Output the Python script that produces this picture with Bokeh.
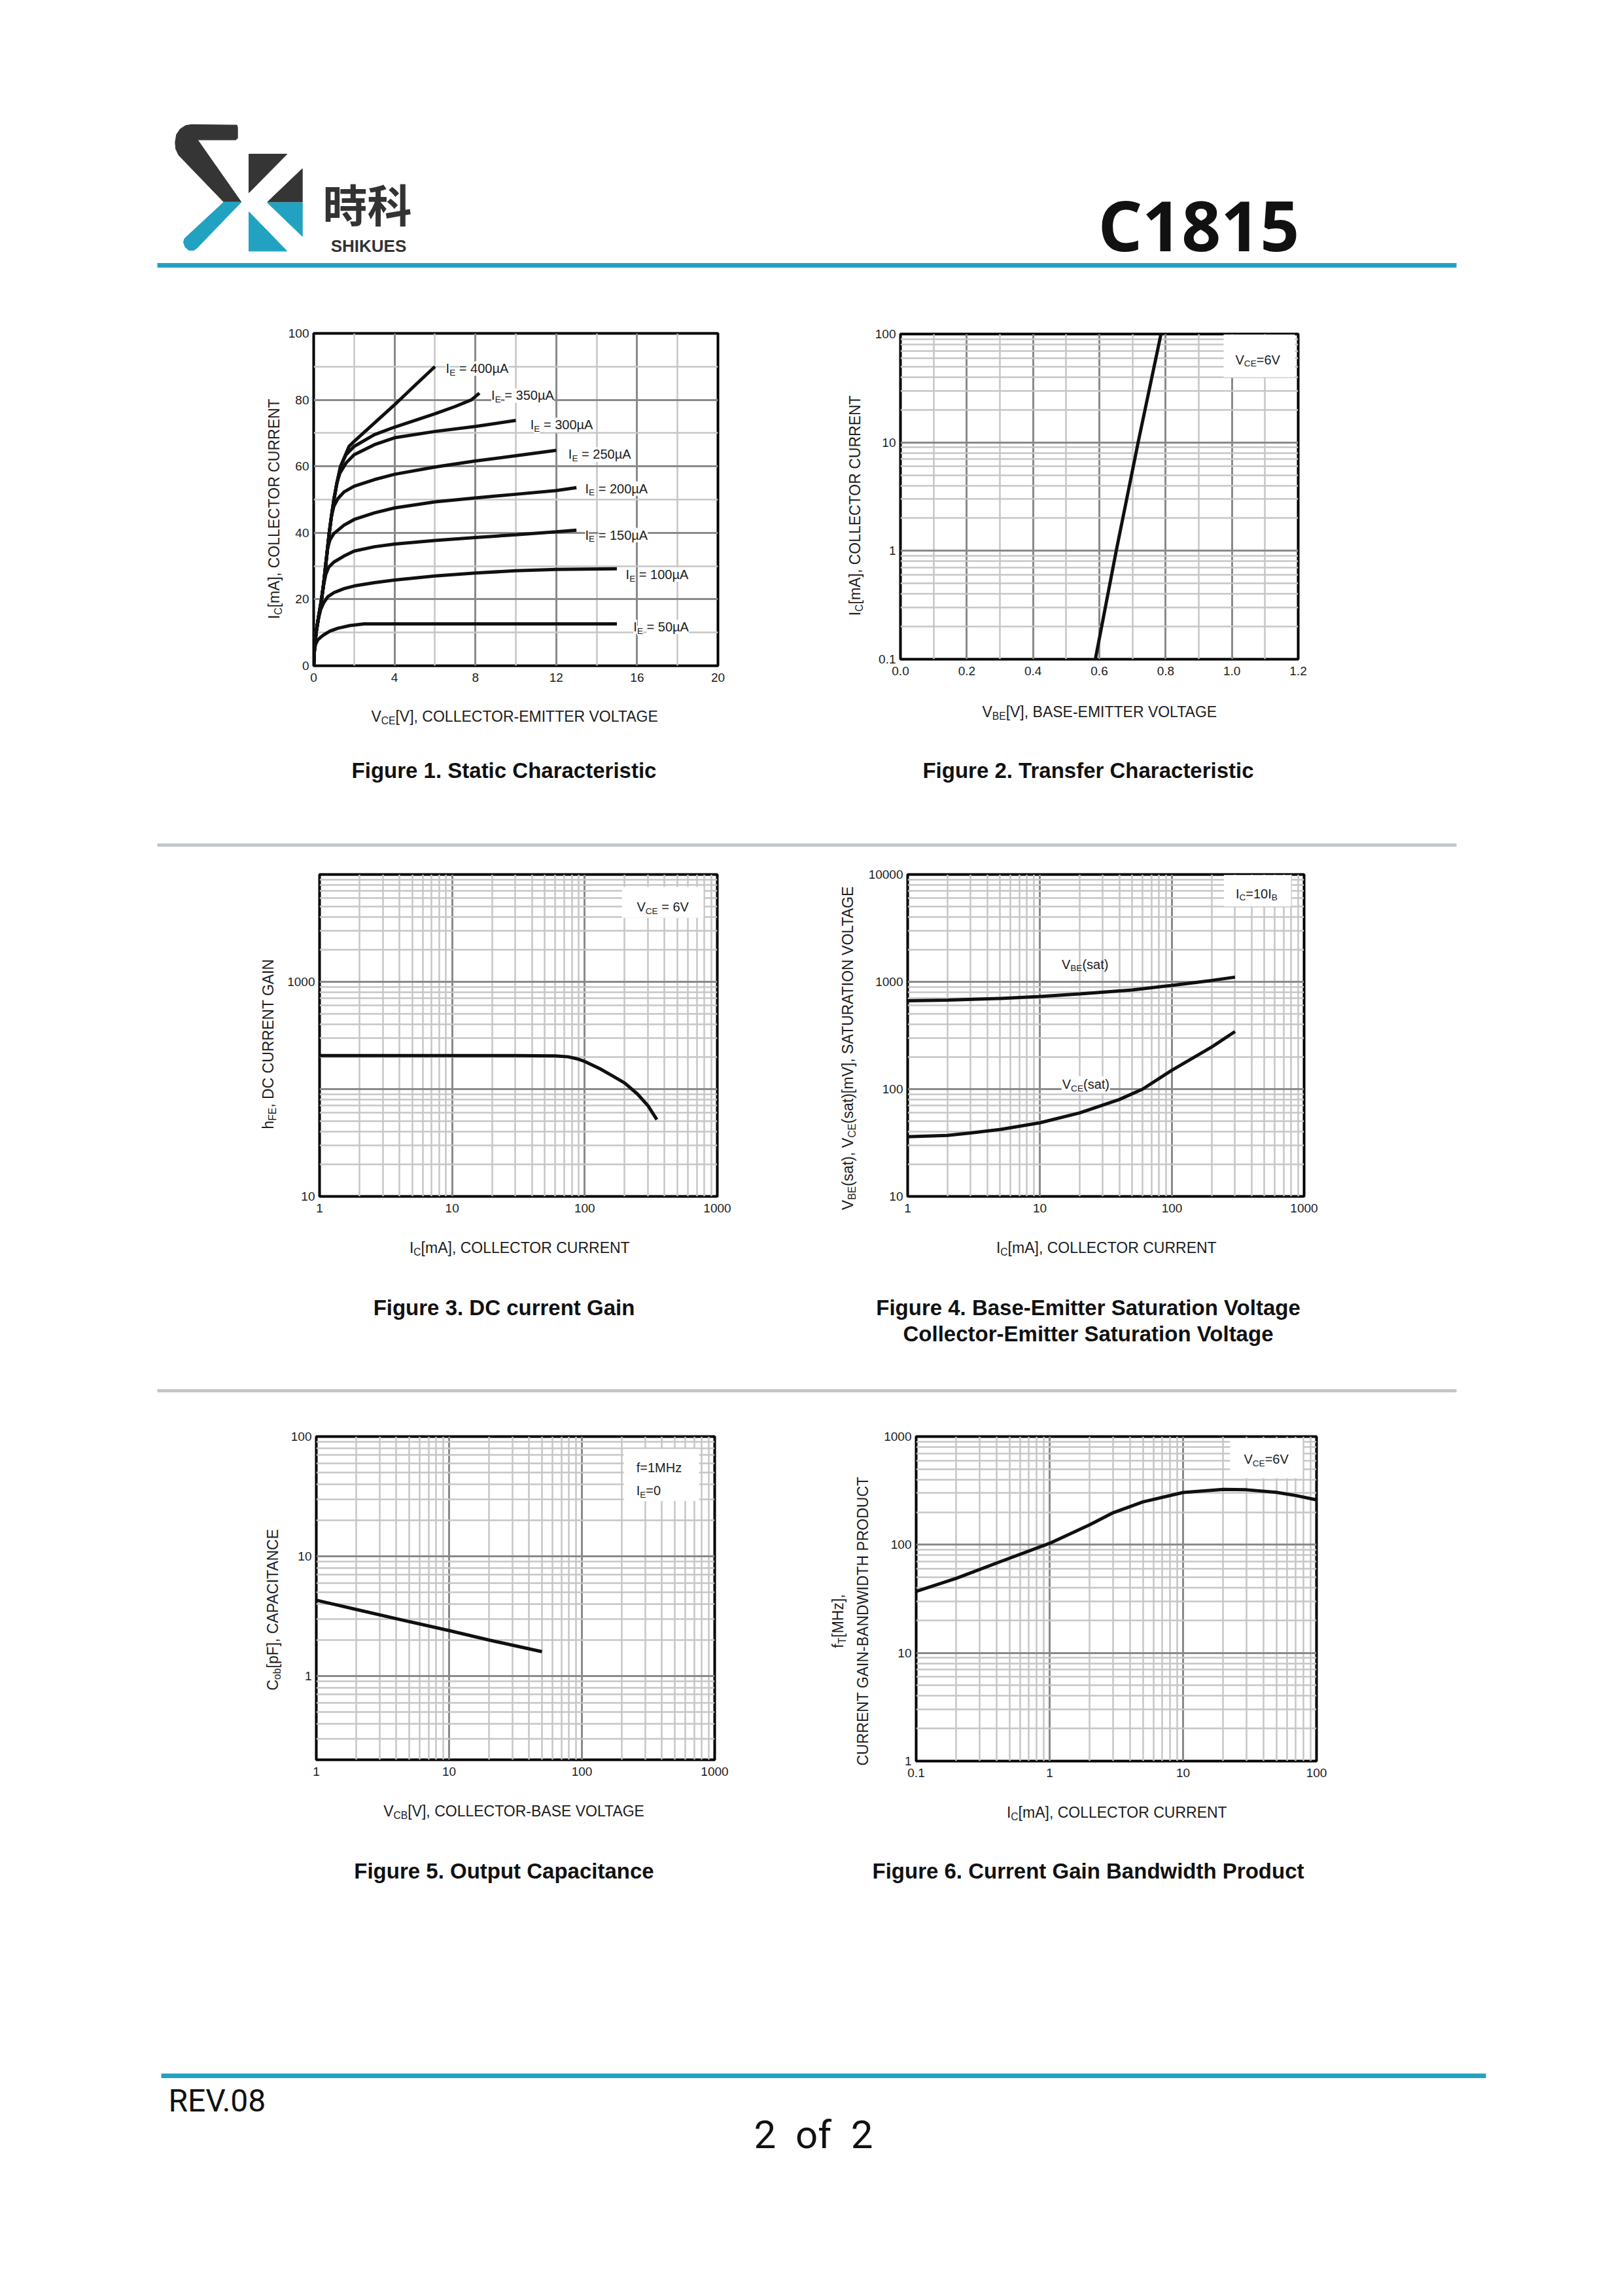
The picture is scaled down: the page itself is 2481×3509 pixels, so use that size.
import math
from bokeh.plotting import figure
from bokeh.layouts import column, row
from bokeh.models import (Range1d, FixedTicker, Label, BoxAnnotation,
                          CustomJSTickFormatter, BasicTickFormatter)
from bokeh.embed import file_html
from bokeh.resources import INLINE

# =============================== DATA ===============================
# Figure 1 - Static characteristic: VCE [V] vs IC [mA]
f1_vce_50 = [0, 0.04, 0.1, 0.2, 0.35, 0.5, 0.8, 1.2, 1.8, 2.5, 15]
f1_ic_50 = [0, 5, 6.5, 7.8, 8.6, 9.3, 10.4, 11.3, 12.1, 12.6, 12.6]
f1_vce_100 = [0, 0.04, 0.12, 0.25, 0.35, 0.5, 0.7, 1, 1.5, 2, 3, 4, 6, 8, 10, 12, 15]
f1_ic_100 = [0, 5, 10, 14.5, 17, 19, 20.8, 22, 23.2, 24, 25, 25.8, 27, 27.9, 28.6, 29, 29.2]
f1_vce_150 = [0, 0.04, 0.12, 0.25, 0.39, 0.5, 0.6, 0.75, 1, 1.5, 2, 3, 4, 6, 8, 10, 12, 13]
f1_ic_150 = [0, 5, 10, 15, 20, 24.5, 27.5, 29.7, 31.2, 33, 34.5, 35.8, 36.6, 37.7, 38.6, 39.4, 40.3, 40.8]
f1_vce_200 = [0, 0.04, 0.12, 0.25, 0.39, 0.5, 0.59, 0.68, 0.8, 1.0, 1.5, 2, 3, 4, 6, 8, 10, 12, 13]
f1_ic_200 = [0, 5, 10, 15, 20, 25, 30, 35, 37.8, 39.8, 42.3, 44, 46, 47.5, 49.3, 50.5, 51.6, 52.7, 53.6]
f1_vce_250 = [0, 0.04, 0.12, 0.25, 0.39, 0.5, 0.59, 0.68, 0.77, 0.88, 1.0, 1.2, 1.5, 2, 3, 4, 6, 8, 10, 12]
f1_ic_250 = [0, 5, 10, 15, 20, 25, 30, 35, 40, 45, 48, 50.3, 52.3, 54, 56, 57.6, 59.8, 61.6, 63.2, 64.8]
f1_vce_300 = [0, 0.04, 0.12, 0.25, 0.39, 0.5, 0.59, 0.68, 0.77, 0.88, 1.0, 1.15, 1.3, 1.6, 2, 3, 4, 6, 8, 10]
f1_ic_300 = [0, 5, 10, 15, 20, 25, 30, 35, 40, 45, 50, 55, 58, 61, 63.5, 66.5, 68.6, 70.5, 72, 73.8]
f1_vce_350 = [0, 0.04, 0.12, 0.25, 0.39, 0.5, 0.59, 0.68, 0.77, 0.88, 1.0, 1.15, 1.33, 1.6, 2, 3, 4, 5, 6, 7, 7.8, 8.2]
f1_ic_350 = [0, 5, 10, 15, 20, 25, 30, 35, 40, 45, 50, 55, 60, 63.5, 66, 69.5, 71.8, 73.8, 75.8, 78, 80, 82]
f1_vce_400 = [0, 0.04, 0.12, 0.25, 0.39, 0.5, 0.59, 0.68, 0.77, 0.88, 1.0, 1.15, 1.33, 1.75, 2, 3, 4, 5, 6]
f1_ic_400 = [0, 5, 10, 15, 20, 25, 30, 35, 40, 45, 50, 55, 60, 66, 67.5, 73, 78.5, 84.3, 90]
f1_curve_x = [f1_vce_50, f1_vce_100, f1_vce_150, f1_vce_200, f1_vce_250, f1_vce_300, f1_vce_350, f1_vce_400]
f1_curve_y = [f1_ic_50, f1_ic_100, f1_ic_150, f1_ic_200, f1_ic_250, f1_ic_300, f1_ic_350, f1_ic_400]
f1_label_values = ["50µA", "100µA", "150µA", "200µA", "250µA", "300µA", "350µA", "400µA"]
f1_label_x = [15.82, 15.44, 13.43, 13.43, 12.6, 10.72, 8.79, 6.54]
f1_label_y = [11.7, 27.4, 39.3, 53.3, 63.6, 72.5, 81.3, 89.4]
f1_xticks = [0, 4, 8, 12, 16, 20]
f1_xminor = [2, 6, 10, 14, 18]
f1_yticks = [0, 20, 40, 60, 80, 100]
f1_yminor = [10, 30, 50, 70, 90]

# Figure 2 - Transfer characteristic: VBE [V] vs IC [mA]
f2_vbe = [0.588, 0.651, 0.717, 0.786]
f2_ic = [0.1, 1, 10, 100]
f2_xticks = [0.0, 0.2, 0.4, 0.6, 0.8, 1.0, 1.2]
f2_xminor = [0.1, 0.3, 0.5, 0.7, 0.9, 1.1]
f2_yticks = [0.1, 1, 10, 100]

# Figure 3 - DC current gain: IC [mA] vs hFE
f3_ic = [1, 10, 30, 60, 75, 90, 100, 130, 160, 200, 250, 300, 350]
f3_hfe = [205, 205, 205, 204, 200, 190, 181, 155, 134, 114, 90, 70, 52]
f3_xticks = [1, 10, 100, 1000]
f3_ylabels = [10, 1000]
f3_ygrid = [10, 100, 1000, 10000]

# Figure 4 - saturation voltages [mV] vs IC [mA]
f4_ic_be = [1, 2, 5, 10, 20, 50, 100, 200, 300]
f4_vbe_sat = [665, 675, 700, 728, 770, 840, 925, 1030, 1105]
f4_ic_ce = [1, 2, 3, 5, 10, 20, 40, 60, 100, 200, 300]
f4_vce_sat = [36, 37, 39, 42, 48.5, 60, 80, 100, 150, 247, 344]
f4_xticks = [1, 10, 100, 1000]
f4_yticks = [10, 100, 1000, 10000]

# Figure 5 - output capacitance: VCB [V] vs Cob [pF]
f5_vcb = [1, 2, 5, 10, 20, 50]
f5_cob = [4.3, 3.6, 2.85, 2.4, 2.0, 1.6]
f5_xticks = [1, 10, 100, 1000]
f5_yticks = [1, 10, 100]

# Figure 6 - current gain bandwidth product: IC [mA] vs fT [MHz]
f6_ic = [0.1, 0.2, 0.5, 1, 2, 3, 5, 10, 20, 30, 50, 70, 100]
f6_ft = [37, 49, 75, 103, 153, 198, 249, 304, 325, 322, 305, 285, 260]
f6_xticks = [0.1, 1, 10, 100]
f6_yticks = [1, 10, 100, 1000]

# ============================== STYLE ===============================
FONT = "Liberation Sans"
INK = "#1c1c1c"
TEAL = "#22A2C1"
DARK = "#353535"
SEP = "#c2c6ca"
MAJOR_GRID = "#8a8a8a"
MINOR_GRID = "#c6c6c6"
CURVE = "#101010"
TICK_PX = 19
TITLE_PX = 23
NOTE_PX = 20
CAP_PX = 33
SUB = 0.68

CW = {' ': 278, '.': 278, ',': 278, '[': 278, ']': 278, '(': 333, ')': 333, '-': 333,
      '=': 584, 'µ': 576,
      'A': 667, 'B': 667, 'C': 722, 'D': 722, 'E': 667, 'F': 611, 'G': 778, 'H': 722,
      'I': 278, 'J': 500, 'K': 667, 'L': 556, 'M': 833, 'N': 722, 'O': 778, 'P': 667,
      'Q': 778, 'R': 722, 'S': 667, 'T': 611, 'U': 722, 'V': 667, 'W': 944, 'X': 667,
      'Y': 667, 'Z': 611,
      'a': 556, 'b': 556, 'c': 500, 'd': 556, 'e': 556, 'f': 278, 'g': 556, 'h': 556,
      'i': 222, 'j': 222, 'k': 500, 'l': 222, 'm': 833, 'n': 556, 'o': 556, 'p': 556,
      'q': 556, 'r': 333, 's': 500, 't': 278, 'u': 556, 'v': 500, 'w': 722, 'x': 500,
      'y': 500, 'z': 500}


def tw(s, size):
    return sum(CW.get(c, 556) for c in s) * size / 1000.0


def rich(p, x, y, parts, size, align="center", vertical=False, bg=None, color=INK, font=FONT):
    sizes = [size * SUB if sub else size for _, sub in parts]
    widths = [tw(t, s) for (t, _), s in zip(parts, sizes)]
    total = sum(widths)
    pos = -total / 2.0 if align == "center" else 0.0
    for (t, sub), s, w in zip(parts, sizes, widths):
        lead = len(t) - len(t.lstrip(' '))
        start = pos + tw(' ' * lead, s)
        txt = t.strip(' ')
        drop = size * 0.3 if sub else 0.0
        if vertical:
            xo, yo, ang = drop, start, math.pi / 2
        else:
            xo, yo, ang = start, -drop, 0.0
        kw = dict(x=x, y=y, x_offset=xo, y_offset=yo, angle=ang, text=txt,
                  text_font=font, text_font_size=f"{s:.1f}px", text_color=color,
                  text_align="left", text_baseline="middle")
        if bg:
            kw["background_fill_color"] = bg
        if txt:
            p.add_layout(Label(**kw))
        pos += w


def plain(p, x, y, text, size, align="center", bold=False, color=INK, font=FONT):
    kw = dict(x=x, y=y, text=text, text_font=font, text_font_size=f"{size}px",
              text_color=color, text_align=align, text_baseline="middle")
    if bold:
        kw["text_font_style"] = "bold"
    p.add_layout(Label(**kw))


def log_minor(lo, hi):
    out = []
    e = math.floor(math.log10(lo))
    while 10 ** e < hi:
        for m in range(2, 10):
            v = m * 10 ** e
            if lo < v < hi:
                out.append(float(f"{v:.6g}"))
        e += 1
    return out


LOGFMT = "return String(tick);"
ONEDEC = "return tick.toFixed(1);"


def page_fig(x0, y0, w, h):
    """A blank figure whose data coordinates are page pixels."""
    p = figure(width=w, height=h, title=None, toolbar_location=None, output_backend="svg",
               x_range=Range1d(x0, x0 + w), y_range=Range1d(y0 + h, y0),
               x_axis_location=None, y_axis_location=None, min_border=0)
    p.grid.visible = False
    p.outline_line_color = None
    p.background_fill_color = "white"
    p.border_fill_color = "white"
    return p


def chart(x0, y0, w, h, frame, xr, yr, xlog, ylog, xlab, ylab,
          xmaj, xmin, ymaj, ymin, xfmt=None, yfmt=None):
    fl, fr, ft, fb = frame
    p = figure(width=w, height=h, title=None, toolbar_location=None, output_backend="svg",
               x_range=Range1d(*xr), y_range=Range1d(*yr),
               x_axis_type="log" if xlog else "linear",
               y_axis_type="log" if ylog else "linear",
               min_border_left=fl - x0, min_border_right=x0 + w - fr,
               min_border_top=ft - y0, min_border_bottom=y0 + h - fb)
    p.background_fill_color = "white"
    p.border_fill_color = "white"
    p.outline_line_color = "#000000"
    p.outline_line_width = 4
    xa, ya = p.xaxis[0], p.yaxis[0]
    xa.ticker = FixedTicker(ticks=xlab)
    ya.ticker = FixedTicker(ticks=ylab)
    xa.formatter = xfmt if xfmt is not None else (CustomJSTickFormatter(code=LOGFMT) if xlog else BasicTickFormatter())
    ya.formatter = yfmt if yfmt is not None else (CustomJSTickFormatter(code=LOGFMT) if ylog else BasicTickFormatter())
    for ax in (xa, ya):
        ax.axis_line_color = None
        ax.major_tick_line_color = None
        ax.minor_tick_line_color = None
        ax.major_tick_out = 0
        ax.major_tick_in = 0
        ax.minor_tick_out = 0
        ax.major_label_text_font = FONT
        ax.major_label_text_font_size = f"{TICK_PX}px"
        ax.major_label_text_color = INK
    xa.major_label_standoff = 11
    ya.major_label_standoff = 7
    gx, gy = p.xgrid[0], p.ygrid[0]
    gx.ticker = FixedTicker(ticks=xmaj, minor_ticks=xmin)
    gy.ticker = FixedTicker(ticks=ymaj, minor_ticks=ymin)
    for g in (gx, gy):
        g.grid_line_color = MAJOR_GRID
        g.grid_line_width = 3
        g.minor_grid_line_color = MINOR_GRID
        g.minor_grid_line_width = 2.5
    return p


def note_box(p, l, r, b, t):
    p.add_layout(BoxAnnotation(left=l, right=r, bottom=b, top=t, fill_color="white",
                               fill_alpha=1.0, line_color=None))


# ============================= LAYOUT ===============================
PAGE_X0, PAGE_W = 0, 2481
PAGE_R = PAGE_X0 + PAGE_W
MID = 1240
HEAD = (0, 460)
BAND1 = (460, 608)
BOT1 = (1068, 242)
BAND2 = (1310, 570)
BOT2 = (1880, 280)
BAND3 = (2160, 580)
BOT3 = (2740, 160)
FOOT = (2900, 400)
LW_CURVE = 5

# ---------------- Figure 1 ----------------
p1 = chart(434, BAND1[0], MID - 434, BAND1[1], (479, 1097, 509, 1017), (0, 20), (0, 100), False, False,
           f1_xticks, f1_yticks, f1_xticks, f1_xminor, f1_yticks, f1_yminor)
for xs, ys in zip(f1_curve_x, f1_curve_y):
    p1.line(xs, ys, line_color=CURVE, line_width=LW_CURVE)
for lab, lx, ly in zip(f1_label_values, f1_label_x, f1_label_y):
    rich(p1, lx, ly, [("I", 0), ("E", 1), (" = " + lab, 0)], NOTE_PX, align="left", bg="white")

# ---------------- Figure 2 ----------------
p2 = chart(1326, BAND1[0], PAGE_R - 1326, BAND1[1], (1376, 1984, 510, 1007), (0, 1.2), (0.1, 100),
           False, True, f2_xticks, f2_yticks, f2_xticks, f2_xminor, f2_yticks, log_minor(0.1, 100),
           xfmt=CustomJSTickFormatter(code=ONEDEC))
p2.line(f2_vbe, f2_ic, line_color=CURVE, line_width=LW_CURVE)
note_box(p2, 0.975, 1.19, 40, 99)
rich(p2, 1.078, 58, [("V", 0), ("CE", 1), ("=6V", 0)], NOTE_PX)

# ---------------- Figure 3 ----------------
p3 = chart(428, BAND2[0], MID - 428, BAND2[1], (488, 1096, 1336, 1828), (1, 1000), (10, 10000), True, True,
           f3_xticks, f3_ylabels, f3_xticks, log_minor(1, 1000), f3_ygrid, log_minor(10, 10000))
p3.line(f3_ic, f3_hfe, line_color=CURVE, line_width=LW_CURVE)
note_box(p3, 191, 787, 3946, 7670)
rich(p3, 388, 4980, [("V", 0), ("CE", 1), (" = 6V", 0)], NOTE_PX)

# ---------------- Figure 4 ----------------
p4 = chart(1314, BAND2[0], PAGE_R - 1314, BAND2[1], (1387, 1993, 1336, 1828), (1, 1000), (10, 10000),
           True, True, f4_xticks, f4_yticks, f4_xticks, log_minor(1, 1000), f4_yticks, log_minor(10, 10000))
p4.line(f4_ic_be, f4_vbe_sat, line_color=CURVE, line_width=LW_CURVE)
p4.line(f4_ic_ce, f4_vce_sat, line_color=CURVE, line_width=LW_CURVE)
note_box(p4, 247, 796, 5050, 9900)
rich(p4, 437, 6650, [("I", 0), ("C", 1), ("=10I", 0), ("B", 1)], NOTE_PX)
rich(p4, 22, 1455, [("V", 0), ("BE", 1), ("(sat)", 0)], NOTE_PX)
note_box(p4, 14.6, 34, 92, 132)
rich(p4, 22.3, 111, [("V", 0), ("CE", 1), ("(sat)", 0)], NOTE_PX)

# ---------------- Figure 5 ----------------
p5 = chart(434, BAND3[0], MID - 434, BAND3[1], (483, 1092, 2195, 2689), (1, 1000), (0.2, 100), True, True,
           f5_xticks, f5_yticks, f5_xticks, log_minor(1, 1000), f5_yticks, log_minor(0.2, 100))
p5.line(f5_vcb, f5_cob, line_color=CURVE, line_width=LW_CURVE)
note_box(p5, 207, 762, 29, 78.7)
rich(p5, 257, 55, [("f=1MHz", 0)], NOTE_PX, align="left")
rich(p5, 257, 35.2, [("I", 0), ("E", 1), ("=0", 0)], NOTE_PX, align="left")

# ---------------- Figure 6 ----------------
p6 = chart(1338, BAND3[0], PAGE_R - 1338, BAND3[1], (1400, 2012, 2195, 2691), (0.1, 100), (1, 1000),
           True, True, f6_xticks, f6_yticks, f6_xticks, log_minor(0.1, 100), f6_yticks, log_minor(1, 1000))
p6.line(f6_ic, f6_ft, line_color=CURVE, line_width=LW_CURVE)
note_box(p6, 22.5, 78.7, 413, 960)
rich(p6, 42, 616, [("V", 0), ("CE", 1), ("=6V", 0)], NOTE_PX)

# ---------------- y-axis title strips ----------------
yt1 = page_fig(PAGE_X0, BAND1[0], 434 - PAGE_X0, BAND1[1])
rich(yt1, 418, 777, [("I", 0), ("C", 1), ("[mA], COLLECTOR CURRENT", 0)], TITLE_PX, vertical=True)
yt2 = page_fig(MID, BAND1[0], 1326 - MID, BAND1[1])
rich(yt2, 1306, 772, [("I", 0), ("C", 1), ("[mA], COLLECTOR CURRENT", 0)], TITLE_PX, vertical=True)
yt3 = page_fig(PAGE_X0, BAND2[0], 428 - PAGE_X0, BAND2[1])
rich(yt3, 409, 1595, [("h", 0), ("FE", 1), (", DC CURRENT GAIN", 0)], TITLE_PX, vertical=True)
yt4 = page_fig(MID, BAND2[0], 1314 - MID, BAND2[1])
rich(yt4, 1295, 1598, [("V", 0), ("BE", 1), ("(sat), V", 0), ("CE", 1),
                       ("(sat)[mV], SATURATION VOLTAGE", 0)], TITLE_PX, vertical=True)
yt5 = page_fig(PAGE_X0, BAND3[0], 434 - PAGE_X0, BAND3[1])
rich(yt5, 416, 2458, [("C", 0), ("ob", 1), ("[pF], CAPACITANCE", 0)], TITLE_PX, vertical=True)
yt6 = page_fig(MID, BAND3[0], 1338 - MID, BAND3[1])
rich(yt6, 1280, 2477, [("f", 0), ("T", 1), ("[MHz],", 0)], TITLE_PX, vertical=True)
rich(yt6, 1318, 2477, [("CURRENT GAIN-BANDWIDTH PRODUCT", 0)], TITLE_PX, vertical=True)

# ---------------- x-axis titles, captions, separators ----------------
CAP_INK = "#111111"
bot1 = page_fig(PAGE_X0, BOT1[0], PAGE_W, BOT1[1])
rich(bot1, 788, 1094, [("V", 0), ("CE", 1), ("[V], COLLECTOR-EMITTER VOLTAGE", 0)], TITLE_PX)
rich(bot1, 1682, 1087, [("V", 0), ("BE", 1), ("[V], BASE-EMITTER VOLTAGE", 0)], TITLE_PX)
plain(bot1, 770, 1177, "Figure 1. Static Characteristic", CAP_PX, bold=True, color=CAP_INK)
plain(bot1, 1663, 1177, "Figure 2. Transfer Characteristic", CAP_PX, bold=True, color=CAP_INK)
bot1.line([240, 2226], [1291, 1291], line_color=SEP, line_width=5)

bot2 = page_fig(PAGE_X0, BOT2[0], PAGE_W, BOT2[1])
rich(bot2, 794, 1906, [("I", 0), ("C", 1), ("[mA], COLLECTOR CURRENT", 0)], TITLE_PX)
rich(bot2, 1691, 1906, [("I", 0), ("C", 1), ("[mA], COLLECTOR CURRENT", 0)], TITLE_PX)
plain(bot2, 770, 1998, "Figure 3. DC current Gain", CAP_PX, bold=True, color=CAP_INK)
plain(bot2, 1663, 1998, "Figure 4. Base-Emitter Saturation Voltage", CAP_PX, bold=True, color=CAP_INK)
plain(bot2, 1663, 2038, "Collector-Emitter Saturation Voltage", CAP_PX, bold=True, color=CAP_INK)
bot2.line([240, 2226], [2125, 2125], line_color=SEP, line_width=5)

bot3 = page_fig(PAGE_X0, BOT3[0], PAGE_W, BOT3[1])
rich(bot3, 787, 2767, [("V", 0), ("CB", 1), ("[V], COLLECTOR-BASE VOLTAGE", 0)], TITLE_PX)
rich(bot3, 1707, 2769, [("I", 0), ("C", 1), ("[mA], COLLECTOR CURRENT", 0)], TITLE_PX)
plain(bot3, 770, 2859, "Figure 5. Output Capacitance", CAP_PX, bold=True, color=CAP_INK)
plain(bot3, 1663, 2859, "Figure 6. Current Gain Bandwidth Product", CAP_PX, bold=True, color=CAP_INK)

# ---------------- header ----------------
LOGO_S_DARK = [(395, 62), (398, 72), (398, 122), (390, 130), (215, 130), (415, 415), (335, 415),
               (128, 200), (114, 170), (112, 140), (118, 105), (135, 80), (160, 64), (185, 60)]
LOGO_S_TEAL = [(335, 415), (415, 415), (210, 628), (195, 637), (175, 636), (158, 622), (150, 600), (155, 582)]
LOGO_TRI_DARK = [[(450, 195), (625, 195), (450, 372)], [(695, 262), (695, 415), (535, 415)]]
LOGO_TRI_TEAL = [[(535, 418), (695, 418), (695, 572)], [(450, 460), (450, 640), (625, 640)]]


def to_page(poly):
    return [230 + x / 3.0 for x, _ in poly], [170 + y / 3.0 for _, y in poly]


head = page_fig(PAGE_X0, HEAD[0], PAGE_W, HEAD[1])
dx, dy = zip(*[to_page(pl) for pl in [LOGO_S_DARK] + LOGO_TRI_DARK])
tx, ty = zip(*[to_page(pl) for pl in [LOGO_S_TEAL] + LOGO_TRI_TEAL])
head.patches(list(dx), list(dy), fill_color=DARK, line_color=DARK, line_width=1)
head.patches(list(tx), list(ty), fill_color=TEAL, line_color=TEAL, line_width=1)
plain(head, 561, 310, "時科", 68, font="Noto Sans CJK TC", color="#333333", bold=True)
plain(head, 563, 375, "SHIKUES", 26, bold=True, color="#333333")
plain(head, 1832, 343, "C1815", 105, font="Noto Sans", bold=True, color="#111111")
head.line([240, 2226], [405, 405], line_color=TEAL, line_width=7)

# ---------------- footer ----------------
foot = page_fig(PAGE_X0, FOOT[0], PAGE_W, FOOT[1])
foot.line([246, 2271], [3172, 3172], line_color=TEAL, line_width=7)
plain(foot, 257, 3210, "REV.08", 48, align="left", font="Roboto", color="#111111")
plain(foot, 1243, 3262, "2\u00a0\u00a0of\u00a0\u00a02", 60, font="Roboto", color="#111111")

layout = column(head,
                row(column(yt1), column(p1), column(yt2), column(p2)), bot1,
                row(column(yt3), column(p3), column(yt4), column(p4)), bot2,
                row(column(yt5), column(p5), column(yt6), column(p6)), bot3,
                foot)

with open("out.html", "w") as fh:
    fh.write(file_html(layout, INLINE))
